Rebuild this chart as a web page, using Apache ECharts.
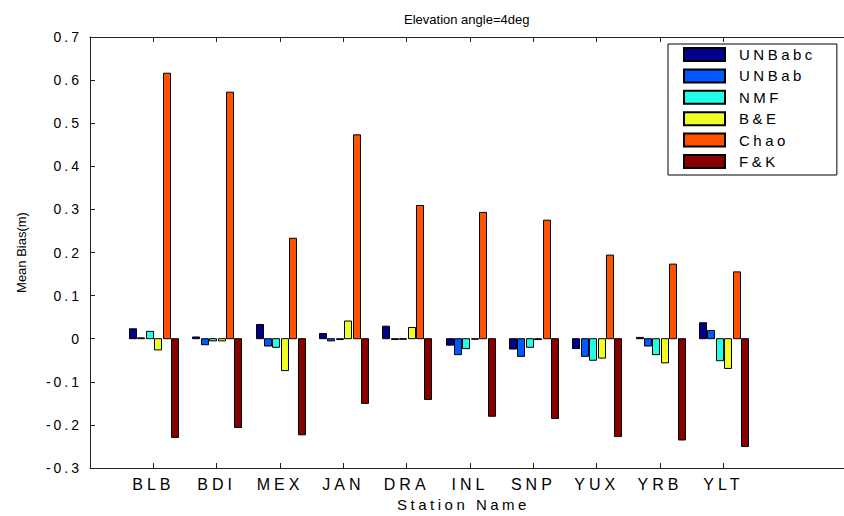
<!DOCTYPE html>
<html>
<head>
<meta charset="utf-8">
<script src="https://cdn.jsdelivr.net/npm/echarts@6/dist/echarts.min.js"></script>
<style>
  html, body { margin: 0; padding: 0; background: #fff; }
  #chart { width: 844px; height: 516px; }
  /* the screen font of this figure is set wide: open up the label text */
  #chart text[style*="14px"] { letter-spacing: 3px; }
  #chart text[style*="15px"] { letter-spacing: 3.5px; }
  #chart text[style*="16px"] { letter-spacing: 4px; }
</style>
</head>
<body>
<div id="chart"></div>
<script>
// Stations along the x axis (placed at positions 1..10)
const stations = ['BLB', 'BDI', 'MEX', 'JAN', 'DRA', 'INL', 'SNP', 'YUX', 'YRB', 'YLT'];

// Mean bias (m) per model, one value per station
const UNBabc = [0.023, 0.004, 0.033, 0.012, 0.029, -0.015, -0.024, -0.023, 0.003, 0.037];
const UNBab  = [0.002, -0.014, -0.017, -0.005, -0.002, -0.037, -0.041, -0.041, -0.017, 0.019];
const NMF    = [0.017, -0.005, -0.020, -0.002, 0.000, -0.023, -0.020, -0.050, -0.037, -0.051];
const BE     = [-0.026, -0.005, -0.074, 0.041, 0.026, 0.000, -0.002, -0.045, -0.056, -0.069];
const Chao   = [0.616, 0.572, 0.233, 0.473, 0.309, 0.293, 0.275, 0.194, 0.173, 0.155];
const FK     = [-0.229, -0.206, -0.223, -0.150, -0.141, -0.180, -0.185, -0.227, -0.235, -0.250];

const seriesNames = ['UNBabc', 'UNBab', 'NMF', 'B&E', 'Chao', 'F&K'];
const seriesData = [UNBabc, UNBab, NMF, BE, Chao, FK];
const seriesColors = ['#00008c', '#0058ff', '#22ffe6', '#eeff22', '#ff5200', '#870000'];

// y ticks
const yMin = -0.3, yMax = 0.7, yStep = 0.1;
const tickPositions = stations.map((_, i) => i + 1);

// grouped bar geometry in axis units
const groupWidth = 0.8;
const pitch = groupWidth / seriesNames.length;
const barW = pitch * 0.8;

function makeRender(si) {
  return function (params, api) {
    const x = api.value(0);
    const v = api.value(1);
    const cx = x + (si - (seriesNames.length - 1) / 2) * pitch;
    const p0 = api.coord([cx - barW / 2, 0]);
    const p1 = api.coord([cx + barW / 2, v]);
    const top = Math.min(p0[1], p1[1]);
    const h = Math.abs(p1[1] - p0[1]);
    return {
      type: 'rect',
      shape: { x: Math.round(p0[0]) + 0.5, y: top, width: Math.round(p1[0] - p0[0]), height: Math.max(h, 0.6) },
      style: { fill: seriesColors[si], stroke: '#000', lineWidth: 1 }
    };
  };
}

const font = '"Liberation Sans", Arial, Helvetica, sans-serif';

const chart = echarts.init(document.getElementById('chart'), null, { renderer: 'svg' });
chart.setOption({
  backgroundColor: '#fff',
  animation: false,
  title: {
    text: 'Elevation angle=4deg',
    left: 399, top: 8,
    textStyle: { fontFamily: font, fontSize: 13, fontWeight: 'normal', color: '#000' }
  },
  legend: {
    orient: 'vertical',
    left: 668, top: 44,
    padding: [3, 42, 6, 15],
    itemGap: 6.4,
    itemWidth: 41, itemHeight: 13,
    icon: 'rect',
    borderColor: '#000', borderWidth: 1,
    backgroundColor: '#fff',
    textStyle: { fontFamily: font, fontSize: 15, color: '#000', padding: [0, 0, 0, 9] },
    data: seriesNames
  },
  grid: { left: 90, top: 37, width: 755, height: 431, containLabel: false, outerBoundsMode: 'none' },
  xAxis: [
    {
      type: 'value', min: 0, max: 11.92,
      position: 'bottom',
      splitLine: { show: false },
      axisLine: { show: true, onZero: false, lineStyle: { color: '#222', width: 1 } },
      axisTick: { show: true, inside: true, length: 5, customValues: tickPositions, lineStyle: { color: '#222' } },
      axisLabel: {
        customValues: tickPositions,
        formatter: v => stations[Math.round(v) - 1] || '',
        fontFamily: font, fontSize: 16, color: '#000', margin: 8
      },
      name: 'Station Name', nameLocation: 'middle', nameGap: 28,
      nameTextStyle: { fontFamily: font, fontSize: 15, color: '#000', padding: [0, 0, 0, -8] }
    },
    {
      type: 'value', min: 0, max: 11.92,
      position: 'top',
      splitLine: { show: false },
      axisLine: { show: true, onZero: false, lineStyle: { color: '#222', width: 1 } },
      axisTick: { show: true, inside: true, length: 5, customValues: tickPositions, lineStyle: { color: '#222' } },
      axisLabel: { show: false }
    }
  ],
  yAxis: {
    type: 'value', min: yMin, max: yMax, interval: yStep,
    splitLine: { show: false },
    axisLine: { show: true, onZero: false, lineStyle: { color: '#222', width: 1 } },
    axisTick: { show: true, inside: true, length: 5, lineStyle: { color: '#222' } },
    axisLabel: {
      formatter: v => (Math.abs(v) < 1e-9 ? '0' : v.toFixed(1)),
      fontFamily: font, fontSize: 14, color: '#000', margin: 8
    },
    name: 'Mean Bias(m)', nameLocation: 'middle', nameGap: 62, nameRotate: 90,
    nameTextStyle: { fontFamily: font, fontSize: 13, color: '#000' }
  },
  series: seriesNames.map((name, si) => ({
    name: name,
    type: 'custom',
    xAxisIndex: 0,
    renderItem: makeRender(si),
    itemStyle: { color: seriesColors[si], borderColor: '#000', borderWidth: 1 },
    encode: { x: 0, y: 1 },
    data: seriesData[si].map((v, i) => [i + 1, v])
  }))
});
</script>
</body>
</html>
